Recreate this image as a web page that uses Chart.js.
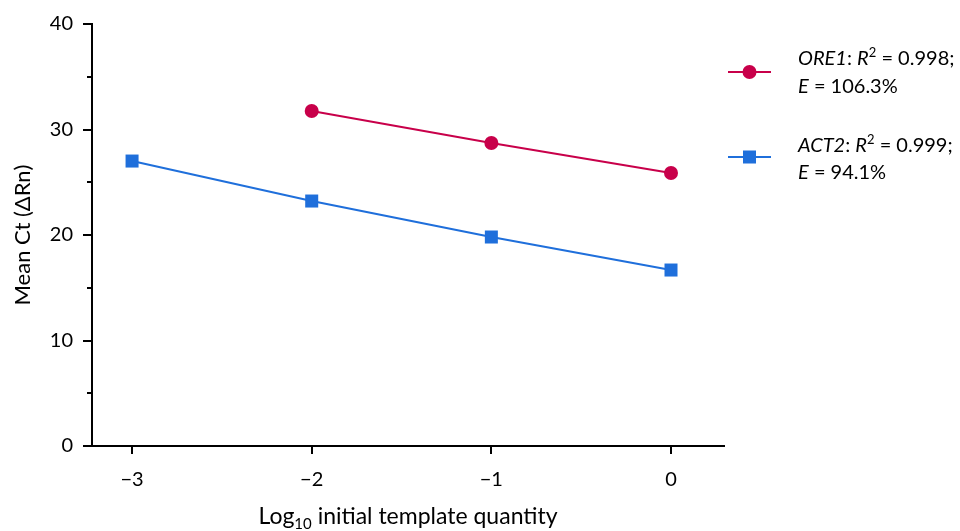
<!DOCTYPE html>
<html><head><meta charset="utf-8">
<script src="https://cdn.jsdelivr.net/npm/chart.js@4/dist/chart.umd.min.js"></script>
<style>html,body{margin:0;padding:0;background:#fff}#wrap{width:960px;height:531px;position:relative}</style>
</head><body><div id="wrap"><canvas id="c" width="960" height="531"></canvas></div>
<script>
const xValues = [-3, -2, -1, 0];
const ore1Ct = [null, 31.75, 28.72, 25.88];
const act2Ct = [27.01, 23.22, 19.81, 16.68];
const xTicks = [-3, -2, -1, 0];
const yMajorTicks = [0, 10, 20, 30, 40];
const yMinorTicks = [5, 15, 25, 35];
const seriesNames = ['ORE1', 'ACT2'];
const r2Values = ['0.998', '0.999'];
const effValues = ['106.3%', '94.1%'];

const RED = '#C8004A', BLUE = '#1F6FDB';
const FONT = 'Lato, "Open Sans", sans-serif';

function pts(ys){ return xValues.map((x,i)=>ys[i]==null?null:{x:x,y:ys[i]}).filter(p=>p); }

const deco = {
  id:'deco',
  afterDraw(chart){
    const ctx = chart.ctx, xs = chart.scales.x, ys = chart.scales.y;
    const ca = chart.chartArea;
    ctx.save();
    ctx.strokeStyle = '#000'; ctx.lineWidth = 2;
    yMajorTicks.forEach(v=>{const p=Math.round(ys.getPixelForValue(v)); ctx.beginPath(); ctx.moveTo(ca.left-9,p); ctx.lineTo(ca.left,p); ctx.stroke();});
    yMinorTicks.forEach(v=>{const p=Math.round(ys.getPixelForValue(v)); ctx.beginPath(); ctx.moveTo(ca.left-5,p); ctx.lineTo(ca.left,p); ctx.stroke();});
    xTicks.forEach(v=>{const p=Math.round(xs.getPixelForValue(v)); ctx.beginPath(); ctx.moveTo(p,ca.bottom); ctx.lineTo(p,ca.bottom+8); ctx.stroke();});
    // x title with subscript
    ctx.fillStyle = '#000'; ctx.textBaseline = 'alphabetic';
    const big = '23px ' + FONT, small = '15px ' + FONT;
    const parts = [['Log', big, 0], ['10', small, 5], [' initial template quantity', big, 0]];
    let w = 0; parts.forEach(p=>{ctx.font=p[1]; w+=ctx.measureText(p[0]).width;});
    let cx = 408 - w/2, by = 524;
    parts.forEach(p=>{ctx.font=p[1]; ctx.fillText(p[0], cx, by+p[2]); cx+=ctx.measureText(p[0]).width;});
    // legend
    const items = [{c:RED, s:'circle', y:72, t1:65, t2:93, i:0},{c:BLUE, s:'rect', y:157, t1:152, t2:179, i:1}];
    items.forEach(it=>{
      ctx.strokeStyle = it.c; ctx.lineWidth = 2;
      ctx.beginPath(); ctx.moveTo(728, it.y); ctx.lineTo(771, it.y); ctx.stroke();
      ctx.fillStyle = it.c;
      if (it.s==='circle'){ctx.beginPath(); ctx.arc(749.5,it.y,7,0,Math.PI*2); ctx.fill();}
      else {ctx.fillRect(743,it.y-6.5,13,13);}
      ctx.fillStyle = '#000';
      const f = '20px ' + FONT, fi = 'italic 20px ' + FONT, fs = '13px ' + FONT;
      const line1 = [[seriesNames[it.i], fi, 0], [': ', f, 0], ['R', fi, 0], ['2', fs, -8], [' = ' + r2Values[it.i] + ';', f, 0]];
      let x = 798;
      line1.forEach(p=>{ctx.font=p[1]; ctx.fillText(p[0], x, it.t1+p[2]); x+=ctx.measureText(p[0]).width;});
      const line2 = [['E', fi, 0], [' = ' + effValues[it.i], f, 0]];
      x = 798;
      line2.forEach(p=>{ctx.font=p[1]; ctx.fillText(p[0], x, it.t2+p[2]); x+=ctx.measureText(p[0]).width;});
    });
    ctx.restore();
  }
};

new Chart(document.getElementById('c'), {
  type:'scatter',
  data:{ datasets:[
    {label:seriesNames[0], data:pts(ore1Ct), showLine:true, borderColor:RED, backgroundColor:RED, borderWidth:2, pointStyle:'circle', pointRadius:7, pointHoverRadius:7, pointBorderWidth:0},
    {label:seriesNames[1], data:pts(act2Ct), showLine:true, borderColor:BLUE, backgroundColor:BLUE, borderWidth:2, pointStyle:'rect', pointRadius:9.2, pointHoverRadius:9.2, pointBorderWidth:0}
  ]},
  options:{
    responsive:false, animation:false, devicePixelRatio:1,
    layout:{padding:{left:0, right:236, top:24, bottom:0}},
    plugins:{legend:{display:false}, tooltip:{enabled:false}},
    scales:{
      x:{ type:'linear', min:-3.223, max:0.295,
        afterBuildTicks(s){ s.ticks = xTicks.map(v=>({value:v})); },
        afterFit(s){ s.height = 85; },
        grid:{display:false}, border:{display:true, color:'#000', width:2},
        ticks:{ padding:14, color:'#000', font:{family:FONT, size:20}, callback:v=> v<0 ? '\u2212'+Math.abs(v) : String(v) }
      },
      y:{ type:'linear', min:0, max:40,
        afterBuildTicks(s){ s.ticks = yMajorTicks.map(v=>({value:v})); },
        afterFit(s){ s.width = 92; },
        grid:{display:false}, border:{display:true, color:'#000', width:2},
        ticks:{ padding:11, color:'#000', font:{family:FONT, size:20} },
        title:{ display:true, text:'Mean Ct (\u0394Rn)', color:'#000', font:{family:FONT, size:22}, padding:{top:10,bottom:0} }
      }
    }
  },
  plugins:[deco]
});
</script></body></html>
